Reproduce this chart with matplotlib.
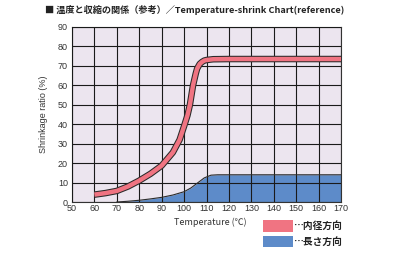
import matplotlib
matplotlib.use('Agg')
from matplotlib import pyplot as plt
from matplotlib.patches import Rectangle

# 内径方向 (center of the red band)
temp_inner = [60, 65, 70, 75, 80, 85, 90, 95, 98, 100, 101.5, 102.6, 104, 105.2,
              105.8, 106.5, 107, 108, 109, 110, 113, 120, 170]
shrink_inner = [3.8, 4.6, 5.7, 8.0, 11.0, 14.5, 18.7, 25.5, 32.0, 39.0, 44.5, 50.0,
                60.0, 66.0, 68.5, 70.0, 71.0, 72.0, 72.7, 73.0, 73.4, 73.5, 73.5]

# 長さ方向
temp_length = [70, 75, 80, 85, 90, 95, 100, 103, 106, 109, 112, 115, 120, 170]
shrink_length = [0, 0.4, 0.9, 1.6, 2.4, 3.6, 5.3, 7.2, 9.8, 12.4, 13.8, 14, 14, 14]

x_ticks = list(range(50, 171, 10))
y_ticks = list(range(0, 91, 10))
legend_labels = ['…内径方向', '…長さ方向']

red = '#f07482'
blue = '#5d8bc9'
edge = '#2a2a2a'
jp = ['Noto Sans CJK JP', 'DejaVu Sans']

fig = plt.figure(figsize=(4, 2.59), dpi=100)
ax = fig.add_axes([0.18, 0.22, 0.6725, 0.676])
ax.set_facecolor('#ece5ef')

ax.fill_between(temp_length, 0, shrink_length, color=blue, zorder=2, linewidth=0)
ax.plot(temp_length, shrink_length, color=edge, lw=0.8, zorder=3)

ax.plot(temp_inner, shrink_inner, color=edge, lw=4.7, zorder=4, solid_capstyle='butt')
ax.plot(temp_inner, shrink_inner, color=red, lw=3.2, zorder=5, solid_capstyle='butt')

ax.set_xlim(50, 170)
ax.set_ylim(0, 90)
ax.set_xticks(x_ticks)
ax.set_yticks(y_ticks)
ax.grid(True, color='#1a1a1a', lw=0.8, zorder=3.5)
ax.set_axisbelow(False)
ax.tick_params(length=0, labelsize=6.5, colors='#333333')
ax.tick_params(axis='x', pad=1.5)
ax.tick_params(axis='y', pad=3)
for lab in ax.get_xticklabels() + ax.get_yticklabels():
    lab.set_family('Liberation Sans')
for s in ax.spines.values():
    s.set_color('#333333')
    s.set_linewidth(0.8)

ax.set_ylabel('Shrinkage ratio (%)', fontsize=6.5, color='#333333',
              family='Liberation Sans', labelpad=7)
fig.text(0.527, 0.143, 'Temperature (℃)', fontsize=6.5, color='#333333',
         family=jp, ha='center', va='center')

fig.text(0.112, 0.961, '■ 温度と収縮の関係（参考）／Temperature-shrink Chart(reference)',
         fontsize=6.6, fontweight='bold', family=jp, color='#222222',
         ha='left', va='center')

# legend boxes
fig.patches.append(Rectangle((0.6575, 0.104), 0.075, 0.047, transform=fig.transFigure,
                             facecolor=red, edgecolor='none'))
fig.patches.append(Rectangle((0.6575, 0.046), 0.075, 0.043, transform=fig.transFigure,
                             facecolor=blue, edgecolor='none'))
fig.text(0.733, 0.127, legend_labels[0], fontsize=7, family=jp, fontweight='bold',
         color='#222222', ha='left', va='center')
fig.text(0.733, 0.066, legend_labels[1], fontsize=7, family=jp, fontweight='bold',
         color='#222222', ha='left', va='center')

fig.savefig('out.png', dpi=100)
